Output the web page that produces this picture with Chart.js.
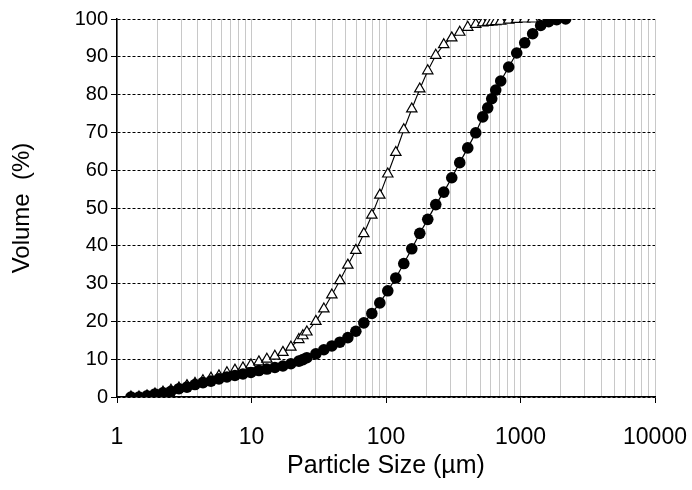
<!DOCTYPE html>
<html>
<head>
<meta charset="utf-8">
<script src="https://cdn.jsdelivr.net/npm/chart.js@4.4.0/dist/chart.umd.min.js"></script>
<style>
  html, body { margin: 0; padding: 0; background: #fff; }
  #wrap { width: 692px; height: 490px; }
</style>
</head>
<body>
<div id="wrap"><canvas id="psd"></canvas></div>
<script>
/* ---------- Data ---------- */
const particleSize = [
  1.27, 1.457, 1.671, 1.916, 2.196, 2.519, 2.888, 3.312, 3.798, 4.355,
  4.993, 5.726, 6.566, 7.529, 8.635, 9.90, 11.35, 13.01, 14.92, 17.12,
  19.62, 22.50, 24.09, 25.80, 30.09, 34.51, 39.57, 45.38, 52.03, 59.66,
  68.42, 78.45, 89.95, 103.1, 118.3, 135.6, 155.5, 178.3, 204.4, 234.4,
  268.8, 308.3, 353.4, 405.3, 464.7, 524.0, 570.6, 611.0, 654.3, 712.8,
  817.2, 937.2, 1075, 1232, 1413, 1620, 1858, 2167
];

// filled circles
const volumeCircles = [
  0, 0, 0.3, 0.8, 1.1, 1.5, 2.2, 2.6, 3.3, 3.8,
  4.2, 4.8, 5.3, 5.7, 6.1, 6.5, 7.0, 7.4, 7.8, 8.2,
  8.8, 9.5, 9.9, 10.4, 11.4, 12.5, 13.5, 14.5, 15.7, 17.4,
  19.6, 22.1, 24.9, 28.1, 31.5, 35.3, 39.2, 43.3, 47.0, 50.9,
  54.2, 58.0, 62.0, 65.9, 69.9, 74.1, 76.5, 78.9, 81.2, 83.6,
  87.3, 91.0, 93.7, 96.1, 98.3, 99.3, 99.8, 100
];

// open triangles (ends at ~1230 µm)
const volumeTriangles = [
  0, 0, 0.3, 0.8, 1.3, 1.8, 2.4, 3.0, 3.6, 4.3,
  5.0, 5.6, 6.4, 7.1, 7.7, 8.5, 9.3, 10.0, 10.8, 11.8,
  13.2, 15.2, 16.2, 17.2, 20.0, 23.3, 27.0, 30.8, 34.9, 38.8,
  43.2, 48.1, 53.4, 59.0, 64.7, 70.7, 76.2, 81.5, 86.3, 90.4,
  93.2, 95.0, 96.5, 97.8, 98.6, 99.0, 99.1, 99.2, 99.3, 99.4,
  99.7, 99.9, 100, 100
];

const xMajorTicks = [1, 10, 100, 1000, 10000];
const yTicks = [0, 10, 20, 30, 40, 50, 60, 70, 80, 90, 100];

/* ---------- Helpers ---------- */
const toPoints = (ys) => ys.map((y, i) => ({ x: particleSize[i], y }));
const isMajor = (v) => xMajorTicks.includes(v);

// all 1..9 x decade positions for the light vertical grid
const xGridTicks = [];
for (let d = 1; d < 10000; d *= 10) {
  for (let k = 1; k < 10; k++) xGridTicks.push(k * d);
}
xGridTicks.push(10000);

const FONT = "'Liberation Sans', Arial, sans-serif";
Chart.defaults.font.family = FONT;
Chart.defaults.color = "#000";

/* ---------- Chart ---------- */
new Chart(document.getElementById("psd"), {
  type: "line",
  data: {
    datasets: [
      {
        label: "circles",
        data: toPoints(volumeCircles),
        borderColor: "#000",
        borderWidth: 1.2,
        pointStyle: "circle",
        pointRadius: 5.8,
        pointBackgroundColor: "#000",
        pointBorderColor: "#000",
        pointBorderWidth: 0,
        tension: 0,
        fill: false
      },
      {
        label: "triangles",
        data: toPoints(volumeTriangles),
        borderColor: "#000",
        borderWidth: 1.1,
        pointStyle: "triangle",
        pointRadius: 6,
        pointBackgroundColor: "#fff",
        pointBorderColor: "#000",
        pointBorderWidth: 1.2,
        tension: 0,
        fill: false
      }
    ]
  },
  options: {
    responsive: true,
    maintainAspectRatio: false,
    animation: false,
    events: [],
    layout: { padding: { top: 19, right: 37, left: 0, bottom: 0 } },
    plugins: {
      legend: { display: false },
      tooltip: { enabled: false }
    },
    scales: {
      x: {
        type: "logarithmic",
        min: 1,
        max: 10000,
        afterBuildTicks: (scale) => {
          scale.ticks = xGridTicks.map(v => ({ value: v }));
        },
        afterFit: (scale) => {
          scale.height = 93;
          scale.paddingLeft = 0;
          scale.paddingRight = 0;
        },
        ticks: {
          autoSkip: false,
          maxRotation: 0,
          padding: 21,
          font: { size: 23 },
          callback: (v) => isMajor(v) ? String(v) : ""
        },
        grid: {
          color: "#c8c8c8",
          lineWidth: 1,
          tickLength: 6,
          tickColor: (ctx) => (ctx.tick && isMajor(ctx.tick.value)) ? "#000" : "rgba(0,0,0,0)"
        },
        border: { color: "#000", width: 1.5 },
        title: {
          display: true,
          text: "Particle Size (µm)",
          font: { size: 25 },
          padding: { top: 0, bottom: 9 }
        }
      },
      y: {
        min: 0,
        max: 100,
        afterBuildTicks: (scale) => {
          scale.ticks = yTicks.map(v => ({ value: v }));
        },
        afterFit: (scale) => {
          scale.width = 117;
          scale.paddingTop = 0;
          scale.paddingBottom = 0;
        },
        ticks: {
          padding: 3,
          font: { size: 20 },
          callback: (v) => String(v)
        },
        grid: {
          color: "#000",
          lineWidth: 1,
          tickLength: 6,
          tickColor: "#000"
        },
        border: { color: "#000", width: 1.5, dash: [3, 2] },
        title: {
          display: true,
          text: "Volume  (%)",
          font: { size: 24 },
          padding: { top: 8, bottom: 0 }
        }
      }
    }
  }
});
</script>
</body>
</html>
